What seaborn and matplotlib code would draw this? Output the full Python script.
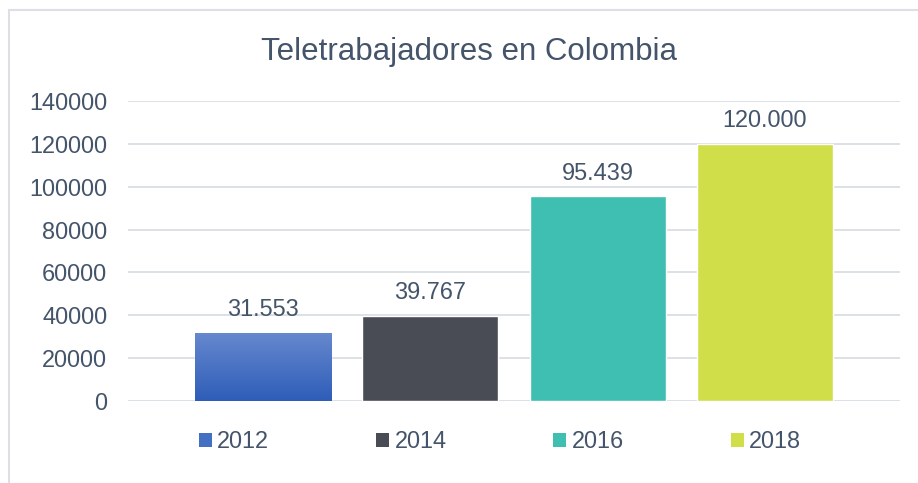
import matplotlib
matplotlib.use("Agg")
import matplotlib.pyplot as plt
import seaborn as sns
import numpy as np
import pandas as pd
from matplotlib.patches import Rectangle, Patch
from matplotlib.colors import LinearSegmentedColormap

# ---- data ----
years = ["2012", "2014", "2016", "2018"]
values = [31553, 39767, 95439, 120000]
value_labels = ["31.553", "39.767", "95.439", "120.000"]
y_ticks = [0, 20000, 40000, 60000, 80000, 100000, 120000, 140000]

# ---- style ----
colors = ["#4470C4", "#494C55", "#3FBFB2", "#D0DE4A"]
grad_top, grad_bottom = "#6688CE", "#2E5DB8"
text_color = "#44546A"
grid_color = "#D9DEE4"

sns.set_style("white")
plt.rcParams["font.family"] = ["Liberation Sans", "DejaVu Sans"]

W, H = 918, 483
fig = plt.figure(figsize=(W / 100, H / 100), dpi=100)

# chart outer border (Excel chart area)
fig.patches.append(Rectangle((9 / W, -0.05), 1.2, (H - 10) / H + 0.05,
                             transform=fig.transFigure, fill=False,
                             edgecolor="#DCE0E6", linewidth=1.5, zorder=0))

ax = fig.add_axes([128 / W, (H - 401) / H, 772 / W, 300 / H])

df = pd.DataFrame({"year": years, "value": values})
sns.barplot(data=df, x="year", y="value", hue="year", order=years,
            hue_order=years, palette=colors, dodge=False, width=0.814,
            saturation=1, legend=False, ax=ax, zorder=3)

# gradient on the 2012 bar
bar0 = ax.patches[0]
bx, by = bar0.get_x(), bar0.get_y()
bw, bh = bar0.get_width(), bar0.get_height()
cmap = LinearSegmentedColormap.from_list("g", [grad_bottom, grad_top])
grad = np.linspace(0, 1, 256).reshape(-1, 1)
im = ax.imshow(grad, extent=[bx, bx + bw, by, by + bh], origin="lower",
               cmap=cmap, aspect="auto", zorder=4)
im.set_clip_path(bar0)

ax.set_xlim(-0.808, 3.808)
ax.set_ylim(0, 140000)
ax.set_yticks(y_ticks)
ax.set_yticklabels([str(v) for v in y_ticks])
ax.set_xticks([])
ax.set_xlabel("")
ax.set_ylabel("")
ax.tick_params(axis="y", length=0, pad=15, labelsize=16.9, labelcolor=text_color)
for s in ax.spines.values():
    s.set_visible(False)
ax.yaxis.grid(True, color=grid_color, linewidth=1.3, zorder=0)
ax.set_axisbelow(True)

# data labels
for i, (v, lab) in enumerate(zip(values, value_labels)):
    ax.annotate(lab, xy=(i, v), xytext=(0, 12.2), textcoords="offset points",
                ha="center", va="baseline", fontsize=16.9, color=text_color)

# title
fig.text(469 / W, 1 - 60 / H, "Teletrabajadores en Colombia", ha="center",
         va="baseline", fontsize=22.5, color=text_color)

# legend
handles = [Patch(facecolor=c, edgecolor="none") for c in colors]
fig.legend(handles, years, loc="center", bbox_to_anchor=(500 / W, 1 - 442 / H),
           ncol=4, frameon=False, fontsize=16.9, labelcolor=text_color,
           handlelength=0.56, handleheight=0.56, handletextpad=0.22,
           columnspacing=4.55, borderpad=0, borderaxespad=0)

fig.savefig("out.png", dpi=100)
